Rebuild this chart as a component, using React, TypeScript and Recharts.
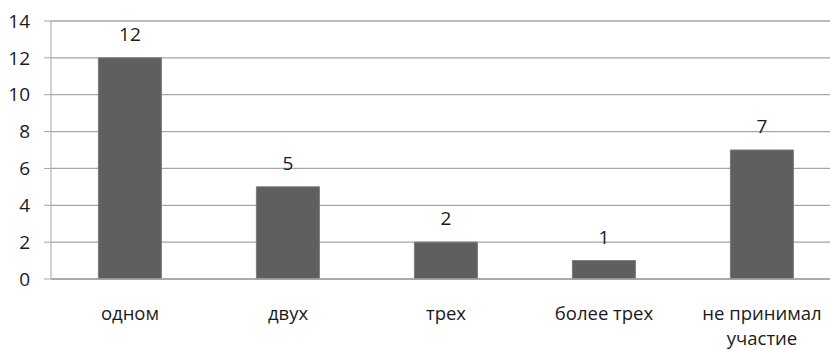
import { Bar, BarChart, CartesianGrid, LabelList, XAxis, YAxis } from "recharts";

const categories = ["одном", "двух", "трех", "более трех", "не принимал участие"];
const tickLines = [["одном"], ["двух"], ["трех"], ["более трех"], ["не принимал", "участие"]];
const values = [12, 5, 2, 1, 7];
const yTicks = [0, 2, 4, 6, 8, 10, 12, 14];
const boundaries = [0, 1, 2, 3, 4, 5];

const data = categories.map((name, i) => ({ name, idx: i, value: values[i] }));

const FONT = "'Open Sans', sans-serif";
const GRID = "#a6a6a6";

function CategoryTick({ x, y, index }: any) {
  const lines = tickLines[index] ?? [];
  return (
    <text x={x} y={y + 41} textAnchor="middle" fill="#1a1a1a" fontSize={18.5} fontFamily={FONT}>
      {lines.map((l, i) => (
        <tspan key={i} x={x} dy={i === 0 ? 0 : 25}>
          {l}
        </tspan>
      ))}
    </text>
  );
}

export default function App() {
  return (
    <div style={{ position: "fixed", left: 0, top: 0, width: 830, height: 349, overflow: "hidden", background: "#fff" }}>
      <BarChart
        width={850}
        height={349}
        data={data}
        margin={{ top: 21, right: 9, bottom: 0, left: 0 }}
        barCategoryGap="30%"
      >
        <CartesianGrid vertical={false} stroke={GRID} strokeWidth={1.3} />
        <XAxis
          xAxisId="edges"
          type="number"
          dataKey="idx"
          domain={[0, 5]}
          ticks={boundaries}
          tick={false}
          tickSize={7}
          tickLine={{ stroke: GRID }}
          axisLine={false}
          height={0}
        />
        <XAxis
          xAxisId="cat"
          dataKey="name"
          tickLine={false}
          tickSize={0}
          tickMargin={0}
          axisLine={{ stroke: GRID, strokeWidth: 1.3 }}
          interval={0}
          tick={<CategoryTick />}
          height={70}
        />
        <YAxis
          domain={[0, 14]}
          ticks={yTicks}
          width={51}
          tickSize={7}
          tickMargin={14}
          tickLine={{ stroke: GRID }}
          axisLine={{ stroke: GRID }}
          tick={{ fill: "#1a1a1a", fontSize: 19, fontFamily: FONT }}
        />
        <Bar xAxisId="cat" dataKey="value" fill="#5f5f5f" stroke="#7a7a7a" strokeWidth={1} isAnimationActive={false}>
          <LabelList dataKey="value" position="top" offset={17} fill="#1a1a1a" fontSize={19} fontFamily={FONT} />
        </Bar>
      </BarChart>
    </div>
  );
}
